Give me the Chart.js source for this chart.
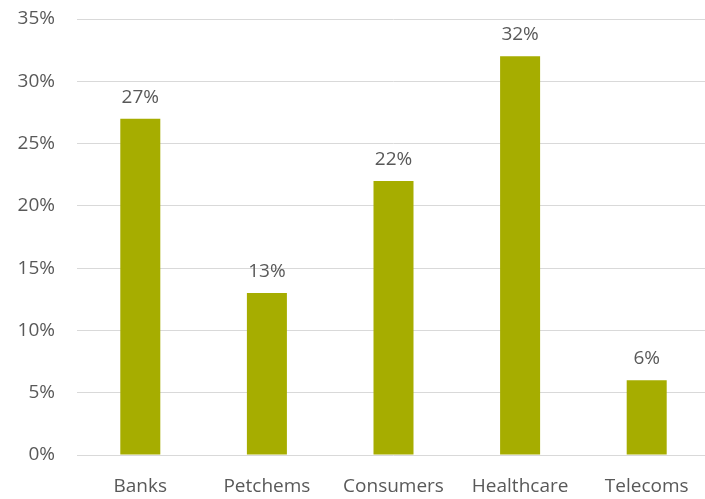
<!DOCTYPE html>
<html>
<head>
<meta charset="utf-8">
<script src="https://cdn.jsdelivr.net/npm/chart.js@4/dist/chart.umd.min.js"></script>
<style>
  html, body { margin: 0; padding: 0; overflow: hidden; background: #fff; }
  #wrap { width: 710px; height: 499px; position: relative; }
</style>
</head>
<body>
<div id="wrap"><canvas id="c"></canvas></div>
<script>
const categories = ['Banks', 'Petchems', 'Consumers', 'Healthcare', 'Telecoms'];
const shares = [27, 13, 22, 32, 6];
const yTicks = [0, 5, 10, 15, 20, 25, 30, 35];

const textColor = '#595959';
const fontFamily = '"Open Sans", "Noto Sans", sans-serif';

// Writes each bar's value above it
const valueLabels = {
  id: 'valueLabels',
  afterDatasetsDraw(chart) {
    const ctx = chart.ctx;
    const meta = chart.getDatasetMeta(0);
    ctx.save();
    ctx.font = '19px ' + fontFamily;
    ctx.fillStyle = textColor;
    ctx.textAlign = 'center';
    ctx.textBaseline = 'bottom';
    meta.data.forEach((bar, i) => {
      ctx.fillText(shares[i] + '%', bar.x, bar.y - 12);
    });
    ctx.restore();
  }
};

new Chart(document.getElementById('c'), {
  type: 'bar',
  data: {
    labels: categories,
    datasets: [{
      data: shares,
      backgroundColor: '#a6ad00',
      borderWidth: 0,
      barPercentage: 1,
      categoryPercentage: 0.316
    }]
  },
  options: {
    responsive: true,
    maintainAspectRatio: false,
    animation: false,
    layout: { padding: { left: 0, top: 19, right: 0, bottom: 0 } },
    plugins: { legend: { display: false }, tooltip: { enabled: false } },
    scales: {
      x: {
        grid: { display: false },
        border: { display: false },
        ticks: { color: textColor, font: { family: fontFamily, size: 19 }, padding: 12, maxRotation: 0 },
        afterFit(axis) { axis.height = 44; }
      },
      y: {
        min: 0,
        max: 35,
        afterBuildTicks(axis) { axis.ticks = yTicks.map(v => ({ value: v })); },
        grid: { color: '#d9d9d9', lineWidth: 1, drawTicks: false },
        border: { display: false },
        ticks: {
          color: textColor,
          font: { family: fontFamily, size: 19 },
          padding: 22,
          callback: v => v + '%'
        },
        afterFit(axis) {
          axis.width = 77;
          // the tick gap is horizontal only; keep it out of the top/bottom margins
          axis.paddingTop = 0;
          axis.paddingBottom = 0;
        }
      }
    }
  },
  plugins: [valueLabels]
});
</script>
</body>
</html>
